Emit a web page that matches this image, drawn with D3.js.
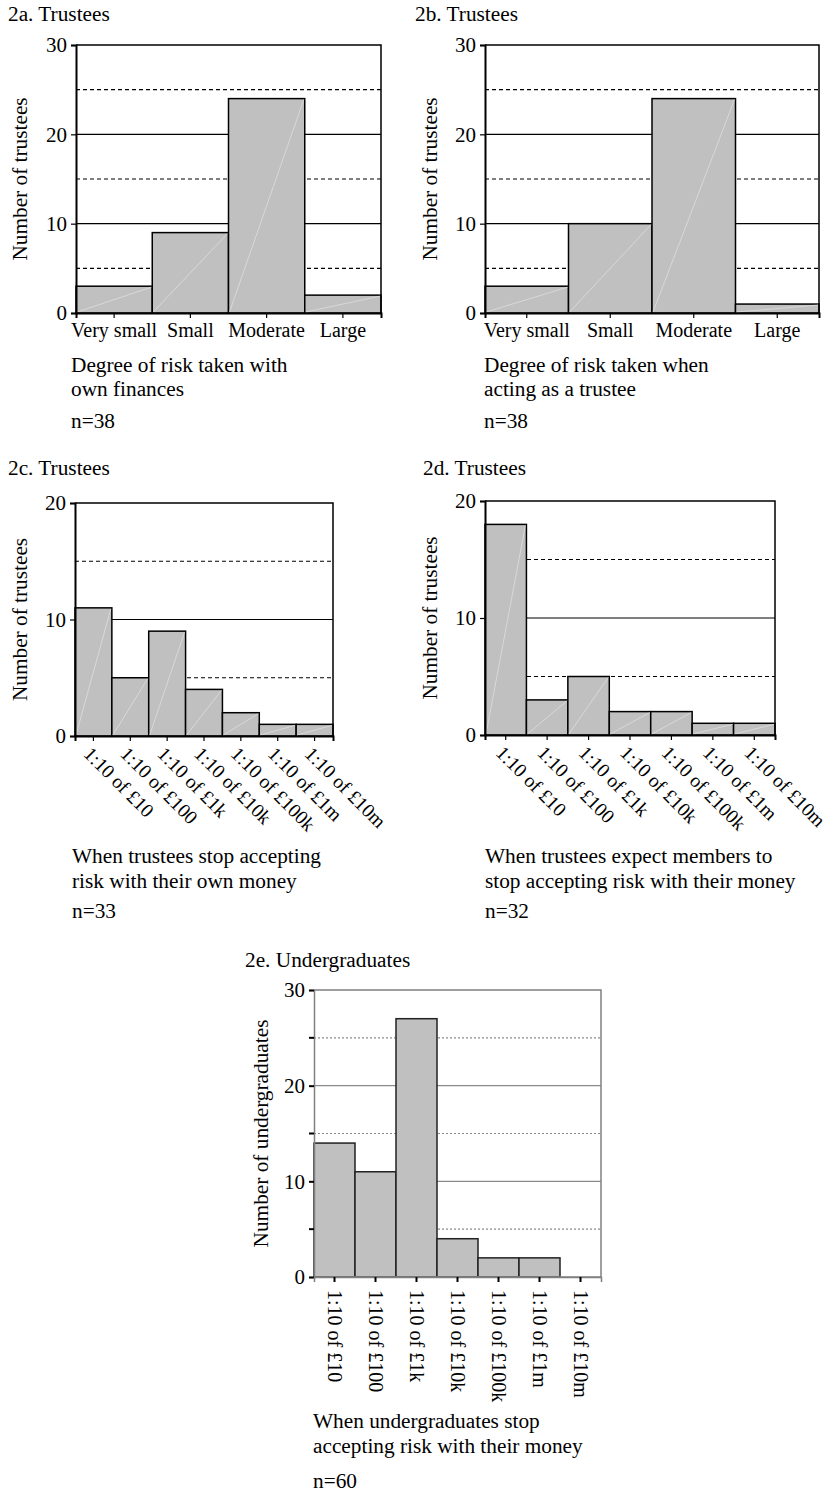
<!DOCTYPE html>
<html>
<head>
<meta charset="utf-8">
<script src="https://cdn.jsdelivr.net/npm/d3@7/dist/d3.min.js"></script>
<style>
  html, body { margin: 0; padding: 0; background: #fff; }
  svg text { font-family: "Liberation Serif", "Times New Roman", serif; fill: #000; }
</style>
</head>
<body>
<svg id="chart" width="829" height="1495"></svg>
<script>
// Risk categories (2a, 2b)
const riskCategories = ["Very small", "Small", "Moderate", "Large"];
const trusteesOwnFinances = [3, 9, 24, 2];
const trusteesActingAsTrustee = [3, 10, 24, 1];

// Stake categories (2c, 2d, 2e)
const stakeCategories = ["1:10 of £10", "1:10 of £100", "1:10 of £1k", "1:10 of £10k",
                         "1:10 of £100k", "1:10 of £1m", "1:10 of £10m"];
const trusteesStopOwn = [11, 5, 9, 4, 2, 1, 1];
const trusteesExpectMembers = [18, 3, 5, 2, 2, 1, 1];
const undergraduatesStop = [14, 11, 27, 4, 2, 2, 0];

// Axis tick values
const ticksTo30 = [0, 10, 20, 30];
const ticksTo20 = [0, 10, 20];
const minorTo30 = [5, 15, 25];
const minorTo20 = [5, 15];

const svg = d3.select("#chart");
const FS_TEXT = 21.3;   // titles, axis titles, captions
const FS_NUM = 21;      // y tick numbers
const FS_CAT = 20;      // category labels
const FS_DIAG = 19.5;   // slanted category labels

function panel(cfg) {
  const g = svg.append("g");
  const x = d3.scaleBand().domain(cfg.categories).range([cfg.x0, cfg.x1]).padding(0);
  const y = d3.scaleLinear().domain([0, cfg.yMax]).range([cfg.y0, cfg.y1]);
  const ink = cfg.frameColor;

  // title
  g.append("text").attr("x", cfg.titleX).attr("y", cfg.titleY)
    .attr("font-size", FS_TEXT).text(cfg.title);

  // horizontal guide lines
  g.selectAll(".major").data(cfg.ticks.filter(v => v > 0 && v < cfg.yMax)).join("line")
    .attr("x1", cfg.x0).attr("x2", cfg.x1)
    .attr("y1", d => y(d)).attr("y2", d => y(d))
    .attr("stroke", cfg.gridColor).attr("stroke-width", cfg.gridWidth);
  g.selectAll(".minor").data(cfg.minor).join("line")
    .attr("x1", cfg.x0).attr("x2", cfg.x1)
    .attr("y1", d => y(d)).attr("y2", d => y(d))
    .attr("stroke", cfg.gridColor).attr("stroke-width", cfg.gridWidth)
    .attr("stroke-dasharray", cfg.dash);

  // bars
  const data = cfg.categories.map((c, i) => ({ c, v: cfg.values[i] }));
  g.selectAll(".bar").data(data.filter(d => d.v > 0)).join("rect")
    .attr("x", d => x(d.c)).attr("width", x.bandwidth())
    .attr("y", d => y(d.v)).attr("height", d => y(0) - y(d.v))
    .attr("fill", "#c0c0c0").attr("stroke", cfg.barStroke).attr("stroke-width", 1.5);
  if (cfg.diagonal) {
    g.selectAll(".diag").data(data.filter(d => d.v > 0)).join("line")
      .attr("x1", d => x(d.c) + 1).attr("y1", y(0) - 1)
      .attr("x2", d => x(d.c) + x.bandwidth() - 1).attr("y2", d => y(d.v) + 1)
      .attr("stroke", "#e2e2e2").attr("stroke-width", 0.7);
  }

  // frame: top and right
  g.append("path")
    .attr("d", `M${cfg.x0},${cfg.y1}H${cfg.x1}V${cfg.y0}`)
    .attr("fill", "none").attr("stroke", ink).attr("stroke-width", cfg.frameWidth);
  if (cfg.closeBottom) {
    g.append("line").attr("x1", cfg.x0).attr("x2", cfg.x1)
      .attr("y1", cfg.y0).attr("y2", cfg.y0)
      .attr("stroke", ink).attr("stroke-width", cfg.frameWidth);
  }

  // left axis
  const ya = g.append("g").attr("transform", `translate(${cfg.x0},0)`)
    .call(d3.axisLeft(y).tickValues(cfg.ticks).tickSize(5).tickPadding(4).tickFormat(d3.format("d")));
  ya.select(".domain").attr("stroke", cfg.axisColor).attr("stroke-width", cfg.axisWidth);
  ya.selectAll(".tick line").attr("stroke", "#000").attr("stroke-width", cfg.tickWidth);
  ya.selectAll(".tick text").attr("font-size", FS_NUM).attr("font-family", "Liberation Serif").attr("fill", "#000");
  if (cfg.minorTicks) {
    g.selectAll(".mtick").data(cfg.minor).join("line")
      .attr("x1", cfg.x0 - 5).attr("x2", cfg.x0)
      .attr("y1", d => y(d)).attr("y2", d => y(d))
      .attr("stroke", "#000").attr("stroke-width", cfg.tickWidth);
  }

  // bottom axis
  const xa = g.append("g").attr("transform", `translate(0,${cfg.y0})`)
    .call(d3.axisBottom(x).tickSize(5).tickFormat(""));
  xa.select(".domain").attr("stroke", cfg.bottomColor).attr("stroke-width", cfg.axisWidth);
  xa.selectAll(".tick line").attr("stroke", "#000").attr("stroke-width", cfg.tickWidth);

  // category labels
  const cx = d => x(d) + x.bandwidth() / 2;
  const lab = g.selectAll(".xl").data(cfg.categories).join("text");
  if (cfg.labelMode === "flat") {
    lab.attr("font-size", FS_CAT).attr("x", cx).attr("y", cfg.y0 + 24)
      .attr("text-anchor", "middle").text(d => d);
  } else if (cfg.labelMode === "diag") {
    lab.attr("font-size", FS_DIAG)
      .attr("transform", d => `translate(${cx(d) - 11},${cfg.y0 + 19}) rotate(45)`)
      .attr("text-anchor", "start").text(d => d);
  } else {
    lab.attr("font-size", FS_CAT)
      .attr("transform", d => `translate(${cx(d)},${cfg.y0 + 13}) rotate(90)`)
      .attr("dy", "0.35em").attr("text-anchor", "start").text(d => d);
  }

  // y axis title
  g.append("text")
    .attr("transform", `translate(${cfg.yLabelX},${(cfg.y0 + cfg.y1) / 2}) rotate(-90)`)
    .attr("text-anchor", "middle").attr("font-size", FS_TEXT).text(cfg.yLabel);

  // caption
  cfg.caption.forEach((line, i) => {
    g.append("text").attr("x", cfg.capX).attr("y", cfg.capY[i])
      .attr("font-size", FS_TEXT).text(line);
  });
}

const trusteeStyle = {
  frameColor: "#000", frameWidth: 1.5, gridColor: "#000", gridWidth: 1.2, dash: "4,3",
  axisColor: "#000", bottomColor: "#000", axisWidth: 2, tickWidth: 1.2, barStroke: "#000",
  diagonal: true, minorTicks: false, closeBottom: false
};

panel(Object.assign({}, trusteeStyle, {
  title: "2a. Trustees", titleX: 8, titleY: 21,
  categories: riskCategories, values: trusteesOwnFinances,
  x0: 76, x1: 381, y0: 313, y1: 45, yMax: 30, ticks: ticksTo30, minor: minorTo30,
  labelMode: "flat", yLabel: "Number of trustees", yLabelX: 27,
  caption: ["Degree of risk taken with", "own finances", "n=38"], capX: 71, capY: [372, 396, 428]
}));

panel(Object.assign({}, trusteeStyle, {
  title: "2b. Trustees", titleX: 415, titleY: 21,
  categories: riskCategories, values: trusteesActingAsTrustee,
  x0: 485, x1: 819, y0: 313, y1: 45, yMax: 30, ticks: ticksTo30, minor: minorTo30,
  labelMode: "flat", yLabel: "Number of trustees", yLabelX: 437,
  caption: ["Degree of risk taken when", "acting as a trustee", "n=38"], capX: 484, capY: [372, 396, 428]
}));

panel(Object.assign({}, trusteeStyle, {
  title: "2c. Trustees", titleX: 8, titleY: 475,
  categories: stakeCategories, values: trusteesStopOwn,
  x0: 75, x1: 333, y0: 736, y1: 503, yMax: 20, ticks: ticksTo20, minor: minorTo20,
  labelMode: "diag", yLabel: "Number of trustees", yLabelX: 27,
  caption: ["When trustees stop accepting", "risk with their own money", "n=33"], capX: 72, capY: [863, 888, 918]
}));

panel(Object.assign({}, trusteeStyle, {
  title: "2d. Trustees", titleX: 423, titleY: 475,
  categories: stakeCategories, values: trusteesExpectMembers,
  x0: 485, x1: 775, y0: 735, y1: 501, yMax: 20, ticks: ticksTo20, minor: minorTo20,
  labelMode: "diag", yLabel: "Number of trustees", yLabelX: 437,
  caption: ["When trustees expect members to", "stop accepting risk with their money", "n=32"], capX: 485, capY: [863, 888, 918]
}));

panel({
  frameColor: "#808080", frameWidth: 1.5, gridColor: "#8a8a8a", gridWidth: 1.1, dash: "2,2",
  axisColor: "#808080", bottomColor: "#808080", axisWidth: 1.5, tickWidth: 2, barStroke: "#222",
  diagonal: false, minorTicks: true, closeBottom: true,
  title: "2e. Undergraduates", titleX: 245, titleY: 967,
  categories: stakeCategories, values: undergraduatesStop,
  x0: 314, x1: 601, y0: 1277, y1: 990, yMax: 30, ticks: ticksTo30, minor: minorTo30,
  labelMode: "vert", yLabel: "Number of undergraduates", yLabelX: 268,
  caption: ["When undergraduates stop", "accepting risk with their money", "n=60"], capX: 313, capY: [1428, 1453, 1488]
});
</script>
</body>
</html>
